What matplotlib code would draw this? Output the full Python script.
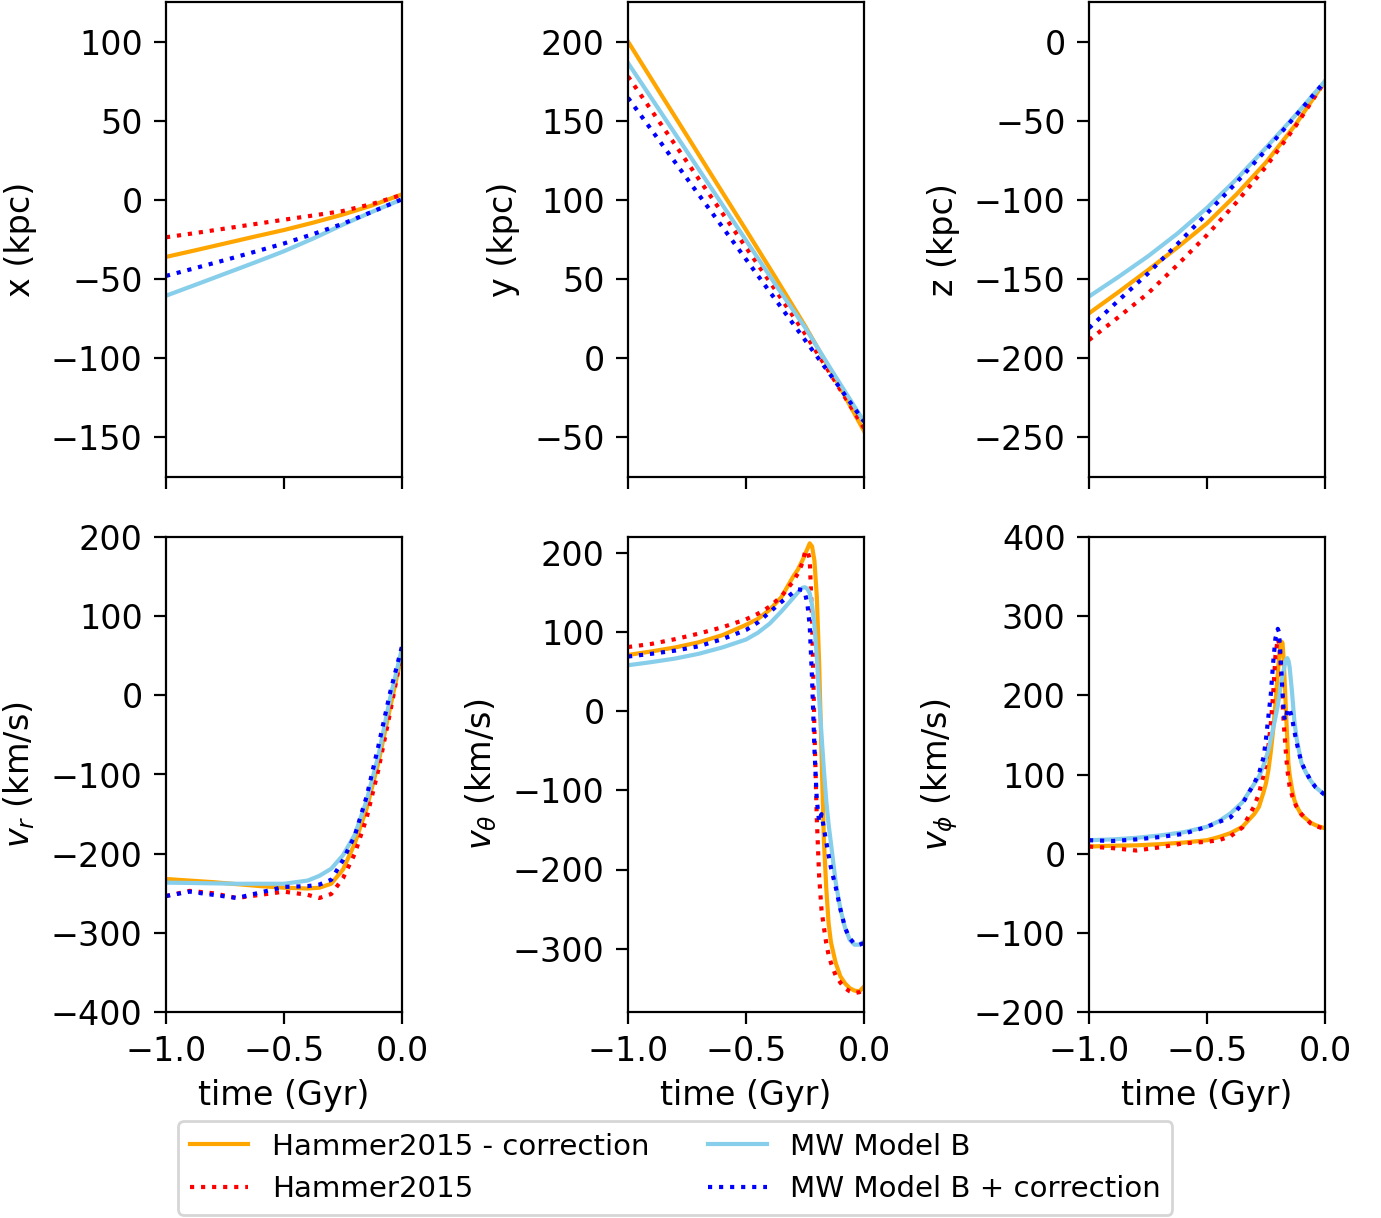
import matplotlib
matplotlib.use("Agg")
import matplotlib.pyplot as plt

plt.rcParams['font.family'] = ['DejaVu Sans']
plt.rcParams['font.size'] = 12
plt.rcParams['mathtext.fontset'] = 'dejavusans'

labels = ["Hammer2015 - correction", "Hammer2015", "MW Model B", "MW Model B + correction"]
colors = ["orange", "red", "skyblue", "blue"]
styles = ["-", ":", "-", ":"]

# ---- top row (positions) ----
t_pos = [-1, -0.875, -0.75, -0.625, -0.5, -0.375, -0.25, -0.125, 0]

x_h_corr = [-36, -31.8, -27.5, -23.2, -19, -14.3, -9.2, -3.4, 3.5]
x_h = [-23.6, -20.9, -18.1, -15.3, -12.5, -9.8, -7, -2.5, 3.2]
x_mw = [-60.5, -53.6, -46.6, -39.6, -32.4, -24.3, -15.6, -7.4, 0.4]
x_mw_corr = [-48, -43, -38, -32.8, -27.5, -21.5, -15, -7.4, 0.4]

y_h_corr = [200, 170.2, 140.5, 110.7, 81, 51, 20.5, -12, -46]
y_h = [178, 151, 124, 97, 70, 43, 15.5, -14, -44]
y_mw = [186.5, 158.5, 130.5, 102.5, 74.5, 46.5, 19.5, -10.5, -40]
y_mw_corr = [164.5, 139, 113.5, 88, 62.5, 37, 11.5, -14, -40]

z_h_corr = [-171.6, -158.2, -144.3, -130, -114.8, -96.5, -76.3, -52.5, -25]
z_h = [-188.5, -174, -159, -141, -122.2, -101.5, -79, -53.5, -25]
z_mw = [-161, -148.6, -135.6, -121.2, -105, -86.9, -67, -46.5, -25]
z_mw_corr = [-181, -163.5, -146.4, -127.8, -108.5, -89, -68.5, -47, -25]

# ---- bottom row (velocities) ----
t_vr = [-1, -0.9, -0.8, -0.7, -0.6, -0.5, -0.4, -0.35, -0.3, -0.25, -0.2, -0.15, -0.1, -0.05, 0]
vr_h_corr = [-232, -234, -236, -238.5, -241, -243, -244, -243, -238, -220, -187, -143, -85, -15, 53]
vr_h = [-253.5, -247, -250, -256, -252, -248, -252, -256, -251, -231, -200, -155, -94, -21, 56]
vr_mw = [-236.6, -237, -237.5, -238, -238, -238, -234, -228, -219, -202, -176, -133, -76, -3, 59]
vr_mw_corr = [-253.5, -248, -252, -256, -249, -242, -241, -239, -233, -208, -177, -128, -64, 4, 62]

t_vth = [-1, -0.9, -0.8, -0.7, -0.6, -0.5, -0.45, -0.4, -0.35, -0.3, -0.28, -0.26, -0.25,
         -0.24, -0.23, -0.22, -0.21, -0.2, -0.19, -0.18, -0.17, -0.16, -0.15, -0.14, -0.12,
         -0.1, -0.08, -0.06, -0.04, -0.02, 0]
vth_h_corr = [71, 75.5, 80.5, 87, 96, 109, 116.5, 128, 144, 170, 179, 191, 198,
              205, 212, 208, 190, 145, 60, -54, -163, -223, -268, -292, -318,
              -335, -344, -350, -353, -354, -348]
vth_h = [81, 85, 91, 98, 106, 116, 123, 132, 145, 164, 174, 188, 201,
         203, 192, 115, -24, -136, -209, -251, -273, -293, -308, -318, -334,
         -343, -350, -354, -356, -355, -352]
vth_mw = [58, 62, 66.5, 72.5, 80.5, 90.5, 99, 110.5, 126, 143, 150, 156, 156.5,
          154.5, 149, 134, 108, 69, 17, -30, -74, -113, -143, -167, -216,
          -250, -274, -289, -295, -295, -291]
vth_mw_corr = [69, 72.5, 76.5, 82, 91, 102.5, 112, 125, 138, 150, 154, 153, 149,
               136, 108, 40, -48, -112, -140, -130, -148, -165, -182, -198, -222,
               -250, -274, -287, -294, -295, -293]

t_vph = [-1, -0.9, -0.8, -0.7, -0.6, -0.5, -0.45, -0.4, -0.35, -0.3, -0.28, -0.26, -0.25,
         -0.24, -0.23, -0.22, -0.21, -0.2, -0.195, -0.19, -0.185, -0.18, -0.175, -0.17,
         -0.165, -0.16, -0.155, -0.15, -0.14, -0.13, -0.12, -0.1, -0.08, -0.06, -0.04, -0.02, 0]
vph_h_corr = [9, 10, 10.5, 12, 14, 17, 21, 26, 34, 50, 59, 78, 89,
              105, 128, 155, 190, 228, 246, 259, 268, 266, 245, 212,
              177, 145, 114, 100, 82, 68, 60, 49, 44, 39, 36, 34, 32]
vph_h = [9, 7, 4, 8, 13, 15, 17, 22, 33, 60, 76, 100, 116,
         135, 163, 200, 250, 272, 265, 249, 220, 190, 165, 145,
         125, 108, 95, 85, 74, 65, 59, 50, 44, 38, 35, 33, 32]
vph_mw = [17, 18, 20, 23, 27, 34, 41, 51, 65, 88, 97, 112, 120,
          131, 144, 158, 172, 187, 197, 207, 217, 225, 232, 239,
          245, 247, 244, 236, 205, 168, 145, 115, 102, 92, 84, 79, 74]
vph_mw_corr = [17, 16, 18, 21, 25, 34, 40, 46, 63, 89, 101, 122, 145,
               173, 200, 240, 272, 284, 280, 258, 232, 203, 180, 168,
               172, 180, 184, 182, 172, 155, 140, 115, 103, 92, 84, 79, 74]

panels = [
    (t_pos, [x_h_corr, x_h, x_mw, x_mw_corr], "x (kpc)", (-175, 125)),
    (t_pos, [y_h_corr, y_h, y_mw, y_mw_corr], "y (kpc)", (-75, 225)),
    (t_pos, [z_h_corr, z_h, z_mw, z_mw_corr], "z (kpc)", (-275, 25)),
    (t_vr, [vr_h_corr, vr_h, vr_mw, vr_mw_corr], r"$v_r$ (km/s)", (-400, 200)),
    (t_vth, [vth_h_corr, vth_h, vth_mw, vth_mw_corr], r"$v_\theta$ (km/s)", (-380, 220)),
    (t_vph, [vph_h_corr, vph_h, vph_mw, vph_mw_corr], r"$v_\phi$ (km/s)", (-200, 400)),
]

W, H = 1381, 1218
fig = plt.figure(figsize=(W / 200, H / 200), dpi=200)
lefts = [166, 628, 1089]
rows = [(2, 477), (537, 1012)]
aw = 236

handles = None
for i, (t, series, ylab, ylim) in enumerate(panels):
    r, c = divmod(i, 3)
    top, bot = rows[r]
    ax = fig.add_axes([lefts[c] / W, 1 - bot / H, aw / W, (bot - top) / H])
    hs = []
    for s, col, ls, lab in zip(series, colors, styles, labels):
        h, = ax.plot(t, s, color=col, linestyle=ls, lw=1.5, label=lab)
        hs.append(h)
    handles = hs
    ax.set_xlim(-1, 0)
    ax.set_ylim(*ylim)
    ax.set_xticks([-1.0, -0.5, 0.0])
    ax.set_ylabel(ylab, labelpad=5)
    ax.tick_params(length=4.2, pad=4.2)
    if r == 0:
        ax.set_xticklabels([])
    else:
        ax.set_xlabel("time (Gyr)")

fig.legend(handles, labels, ncol=2, loc="lower left", fontsize=10.55,
           bbox_to_anchor=(178 / W, 3 / H), borderaxespad=0)

fig.savefig("out.png", dpi=200)
